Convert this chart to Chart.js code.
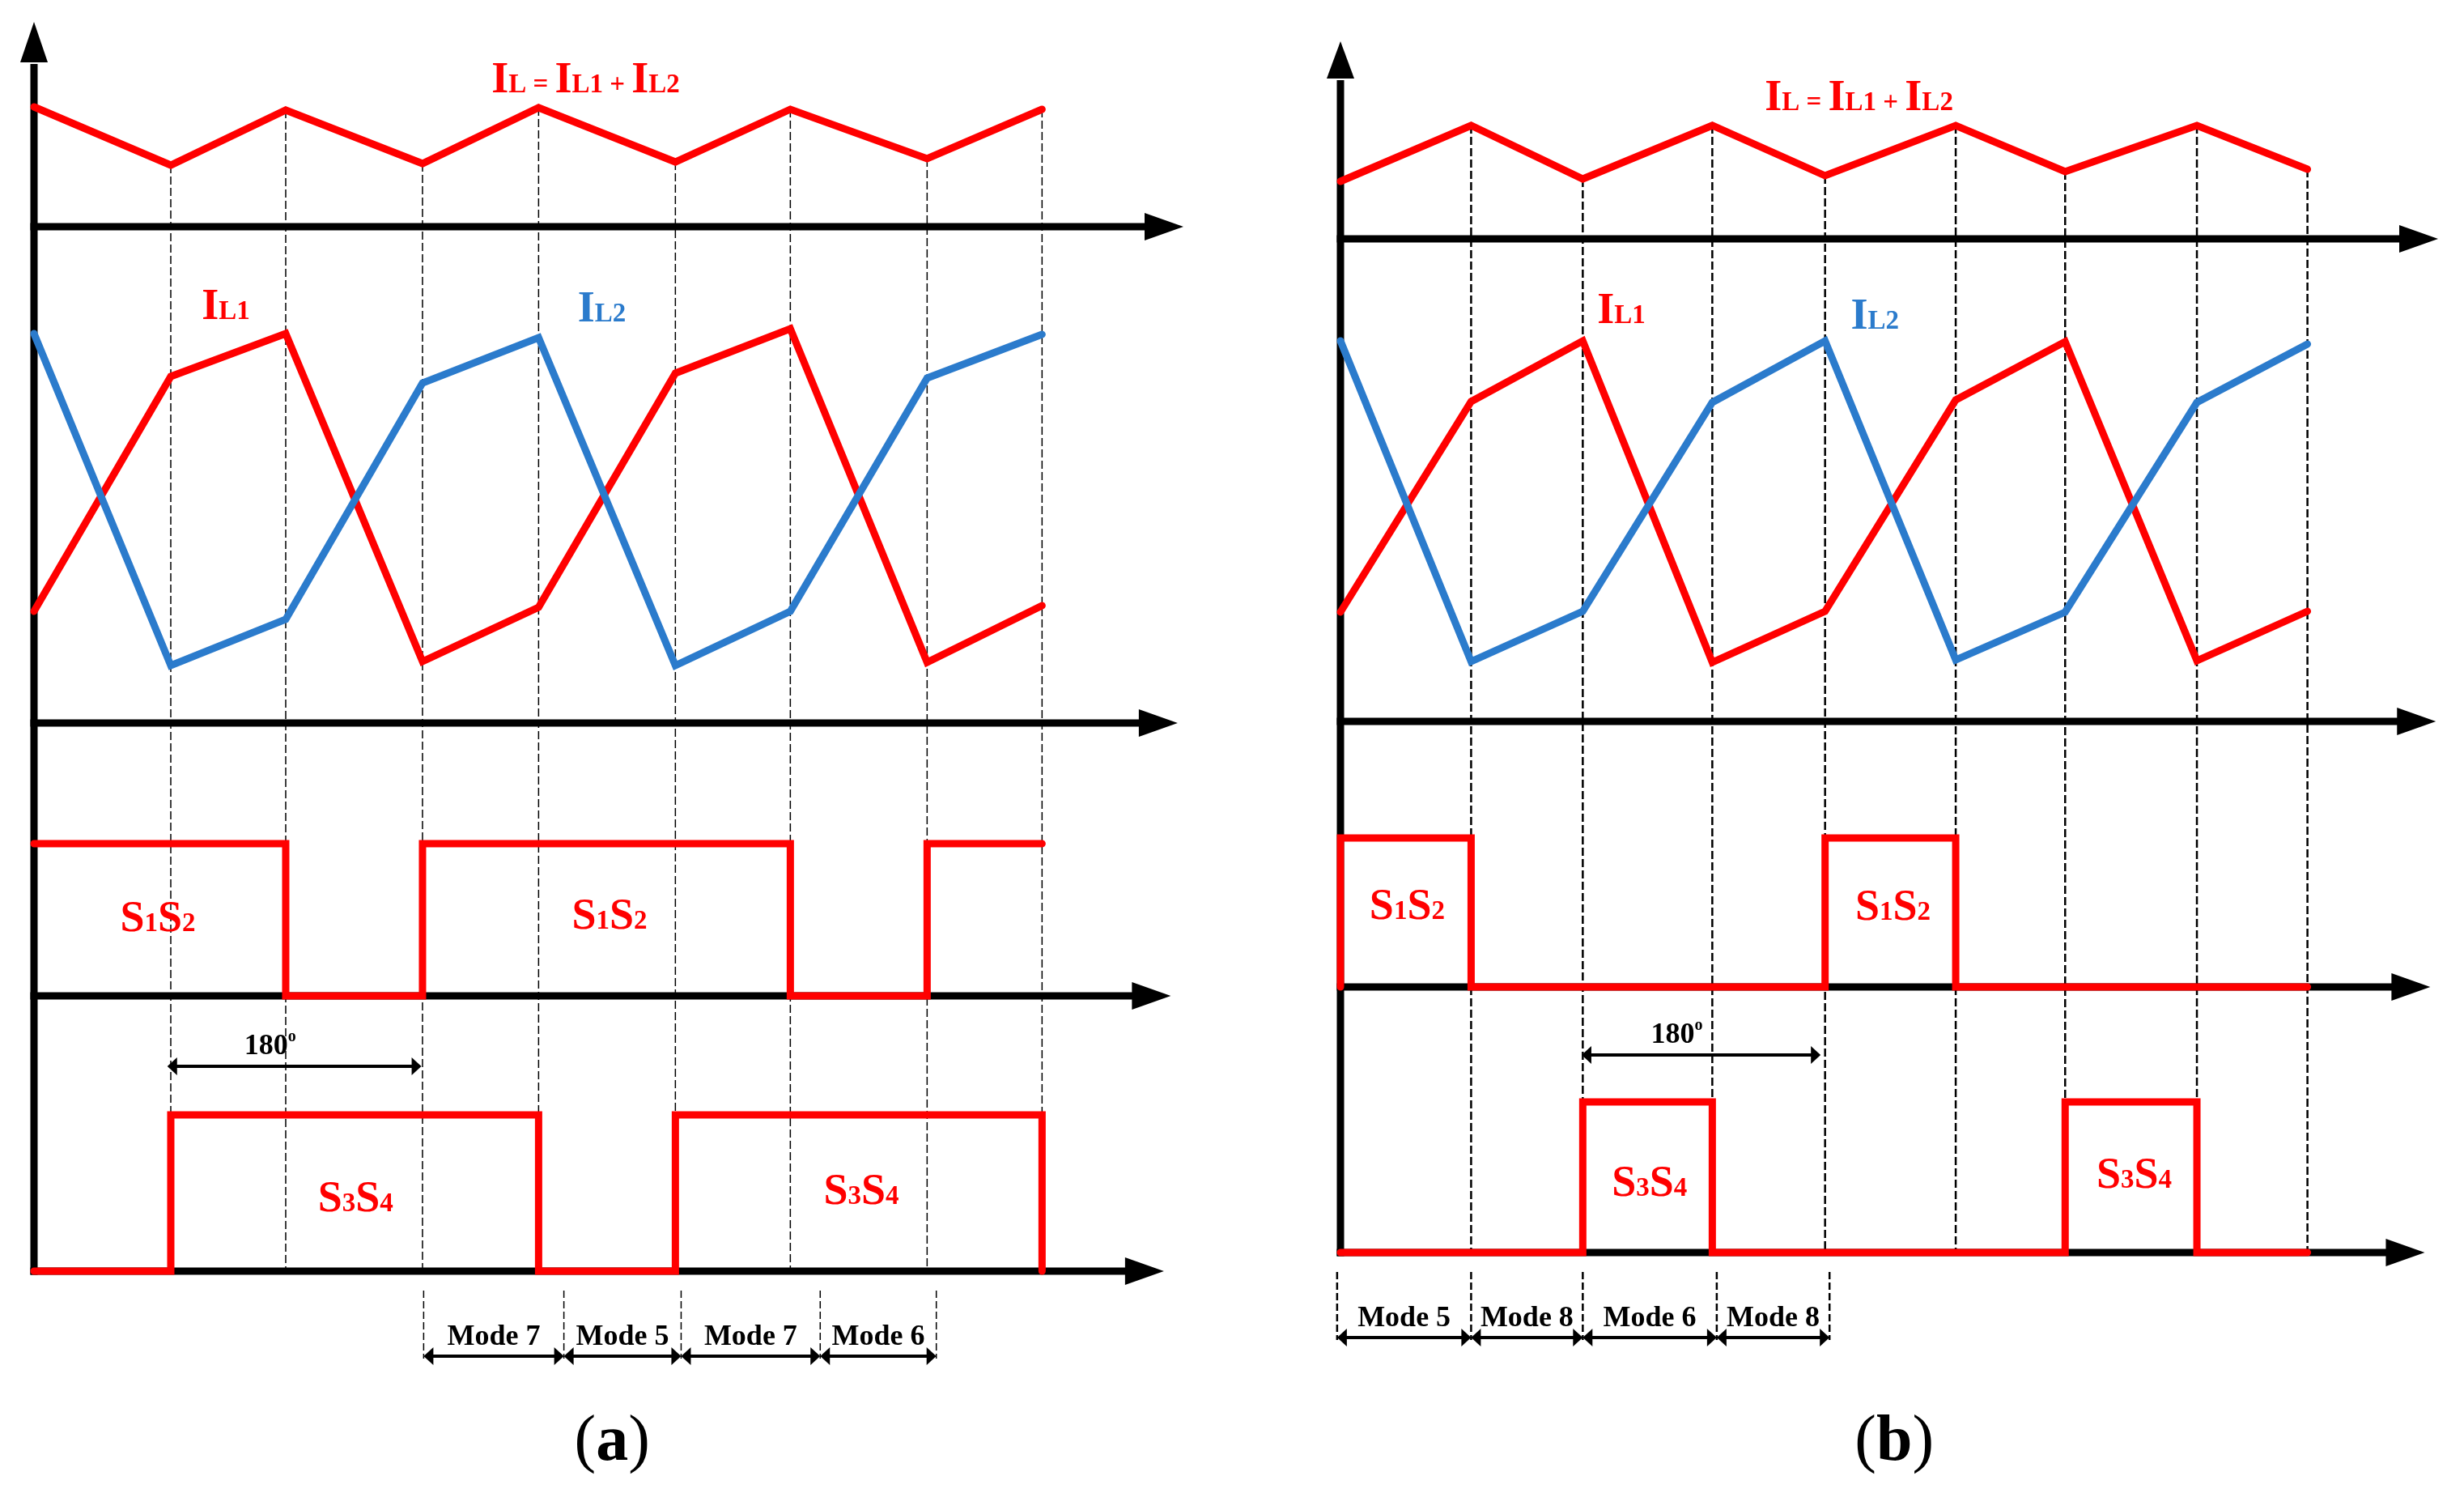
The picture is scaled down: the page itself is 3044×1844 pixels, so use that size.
<!DOCTYPE html>
<html>
<head>
<meta charset="utf-8">
<title>Interleaved converter waveforms</title>
<script src="https://cdn.jsdelivr.net/npm/chart.js@4.4.1/dist/chart.umd.min.js"></script>
<style>
  html, body { margin: 0; padding: 0; background: #fff; }
  #wrap { position: relative; width: 3044px; height: 1844px; background: #fff; }
  canvas { position: absolute; top: 0; }
  #chartA { left: 0; }
  #chartB { left: 1522px; }
</style>
</head>
<body>
<div id="wrap">
  <canvas id="chartA" width="1522" height="1844"></canvas>
  <canvas id="chartB" width="1522" height="1844"></canvas>
</div>
<script>
// ---- panel (a) data ----
const tA = [0, 1.19, 2.19, 3.38, 4.39, 5.58, 6.58, 7.77, 8.77];
const iLA = [14.8, 7.6, 14.4, 7.8, 14.7, 8.0, 14.5, 8.4, 14.5];
const iL1A = [13.8, 42.8, 48.1, 7.6, 14.3, 43.2, 48.7, 7.5, 14.5];
const iL2A = [48.1, 7.1, 12.8, 42.0, 47.6, 7.1, 13.8, 42.6, 48.0];
const s12TimesA = [0, 2.19, 3.38, 6.58, 7.77, 8.77];
const s12A = [18.8, 0, 18.8, 0, 18.8, 18.8];
const s34TimesA = [0, 1.19, 4.39, 5.58, 8.77];
const s34A = [0, 19.3, 0, 19.3, 0];
const modeNamesA = ["Mode 7", "Mode 5", "Mode 7", "Mode 6"];
const modeEdgesA = [3.39, 4.61, 5.63, 6.84, 7.85];

// ---- panel (b) data ----
const tB = [0, 1.17, 2.17, 3.33, 4.34, 5.51, 6.49, 7.67, 8.66];
const iLB = [7.1, 14.0, 7.4, 14.0, 7.8, 14.0, 8.3, 14.0, 8.6];
const iL1B = [13.5, 39.5, 47.0, 7.3, 13.6, 39.7, 46.9, 7.5, 13.6];
const iL2B = [47.0, 7.4, 13.6, 39.4, 47.0, 7.6, 13.5, 39.4, 46.6];
const s12TimesB = [0, 0, 1.17, 4.34, 5.51, 8.66];
const s12B = [0, 18.4, 0, 18.4, 0, 0];
const s34TimesB = [0, 2.17, 3.33, 6.49, 7.67, 8.66];
const s34B = [0, 18.6, 0, 18.6, 0, 0];
const modeNamesB = ["Mode 5", "Mode 8", "Mode 6", "Mode 8"];
const modeEdgesB = [-0.03, 1.17, 2.17, 3.37, 4.38];

const RED = "#ff0000";
const BLUE = "#2b7bcc";
const BIG = 'bold 54px "Liberation Serif"';
const SMALL = 'bold 33px "Liberation Serif"';
const MODE_FONT = 'bold 36px "Liberation Serif"';

const sumRuns = [["I", BIG], ["L", SMALL], [" = ", SMALL], ["I", BIG], ["L1", SMALL], [" + ", SMALL], ["I", BIG], ["L2", SMALL]];
const il1Runs = [["I", BIG], ["L1", SMALL]];
const il2Runs = [["I", BIG], ["L2", SMALL]];
const s12Runs = [["S", BIG], ["1", SMALL], ["S", BIG], ["2", SMALL]];
const s34Runs = [["S", BIG], ["3", SMALL], ["S", BIG], ["4", SMALL]];
const degRuns = [["180", 'bold 36px "Liberation Serif"'], ["o", 'bold 20px "Liberation Serif"', -16]];

function pts(xs, ys) {
  return xs.map((x, i) => ({ x: x, y: ys[i] }));
}

function wave(data, axis, color, stepped) {
  return {
    data: data, yAxisID: axis, borderColor: color, borderWidth: 9,
    pointRadius: 0, borderCapStyle: "round", borderJoinStyle: "miter",
    stepped: stepped || false, tension: 0, fill: false, clip: false
  };
}

function drawRuns(ctx, x, y, runs, color, align) {
  let w = 0;
  for (const r of runs) { ctx.font = r[1]; w += ctx.measureText(r[0]).width; }
  let cx = align === "center" ? x - w / 2 : x;
  ctx.fillStyle = color;
  ctx.textAlign = "left";
  ctx.textBaseline = "alphabetic";
  for (const r of runs) {
    ctx.font = r[1];
    ctx.fillText(r[0], cx, y + (r[2] || 0));
    cx += ctx.measureText(r[0]).width;
  }
}

// filled triangle, tip at (x,y)
function head(ctx, x, y, dir, len, half) {
  ctx.beginPath();
  if (dir === "r") { ctx.moveTo(x, y); ctx.lineTo(x - len, y - half); ctx.lineTo(x - len, y + half); }
  if (dir === "l") { ctx.moveTo(x, y); ctx.lineTo(x + len, y - half); ctx.lineTo(x + len, y + half); }
  if (dir === "u") { ctx.moveTo(x, y); ctx.lineTo(x - half, y + len); ctx.lineTo(x + half, y + len); }
  ctx.closePath();
  ctx.fill();
}

function dblArrow(ctx, xa, xb, y) {
  ctx.lineWidth = 4;
  ctx.beginPath(); ctx.moveTo(xa + 8, y); ctx.lineTo(xb - 8, y); ctx.stroke();
  head(ctx, xa, y, "l", 12, 11);
  head(ctx, xb, y, "r", 12, 11);
}

function schemePlugin(p) {
  return {
    id: "scheme",
    beforeDatasetsDraw(chart) {
      const ctx = chart.ctx, sc = chart.scales, xs = sc.x;
      const x0 = xs.getPixelForValue(0);
      const yBot = sc.y4.getPixelForValue(0);
      ctx.save();
      // dashed time markers
      ctx.strokeStyle = "#000";
      ctx.lineWidth = p.dashWidth;
      ctx.setLineDash([10, 4]);
      p.t.forEach((t, i) => {
        if (i === 0) return;
        const x = xs.getPixelForValue(t);
        ctx.beginPath();
        ctx.moveTo(x, sc.y1.getPixelForValue(p.iL[i]));
        ctx.lineTo(x, yBot);
        ctx.stroke();
      });
      ctx.setLineDash([]);
      // axes
      ctx.fillStyle = "#000";
      ctx.lineWidth = 9;
      ctx.beginPath();
      ctx.moveTo(x0, yBot + 4.5);
      ctx.lineTo(x0, chart.chartArea.top + 2);
      ctx.stroke();
      head(ctx, x0, chart.chartArea.top - p.yHead, "u", p.yHead, 17);
      ["y1", "y2", "y3", "y4"].forEach((id, k) => {
        const y = sc[id].getPixelForValue(0);
        const tip = xs.getPixelForValue(p.axisEnds[k]);
        ctx.beginPath();
        ctx.moveTo(x0 - 4.5, y);
        ctx.lineTo(tip - 46, y);
        ctx.stroke();
        head(ctx, tip, y, "r", 48, 17);
      });
      ctx.restore();
    },
    afterDatasetsDraw(chart) {
      const ctx = chart.ctx, sc = chart.scales, xs = sc.x;
      const yBot = sc.y4.getPixelForValue(0);
      ctx.save();
      // waveform labels
      p.labels.forEach(l => {
        drawRuns(ctx, xs.getPixelForValue(l.t), sc[l.axis].getPixelForValue(l.v), l.runs, l.color, "left");
      });
      // 180 degree shift
      ctx.strokeStyle = "#000";
      ctx.fillStyle = "#000";
      const a = p.shift;
      dblArrow(ctx, xs.getPixelForValue(a.from), xs.getPixelForValue(a.to), sc.y4.getPixelForValue(a.v));
      drawRuns(ctx, xs.getPixelForValue(a.labelT), sc.y4.getPixelForValue(a.labelV), degRuns, "#000", "left");
      // operating modes
      ctx.lineWidth = p.dashWidth;
      ctx.setLineDash([9, 4]);
      p.modeEdges.forEach(t => {
        const x = xs.getPixelForValue(t);
        ctx.beginPath(); ctx.moveTo(x, yBot + 24); ctx.lineTo(x, yBot + 108); ctx.stroke();
      });
      ctx.setLineDash([]);
      p.modeNames.forEach((name, i) => {
        const xa = xs.getPixelForValue(p.modeEdges[i]);
        const xb = xs.getPixelForValue(p.modeEdges[i + 1]);
        dblArrow(ctx, xa, xb, yBot + 105);
        drawRuns(ctx, (xa + xb) / 2, yBot + 91, [[name, MODE_FONT]], "#000", "center");
      });
      // caption
      drawRuns(ctx, xs.getPixelForValue(p.captionT), 1803,
        [["(", '80px "Liberation Serif"'], [p.caption, 'bold 80px "Liberation Serif"'], [")", '80px "Liberation Serif"']],
        "#000", "center");
      ctx.restore();
    }
  };
}

function buildPanel(canvasId, p) {
  const yAxis = (max, w) => ({
    type: "linear", position: "left", stack: "v", stackWeight: max, weight: w,
    min: 0, max: max, display: false, afterFit: s => { s.width = 0; }
  });
  return new Chart(document.getElementById(canvasId), {
    type: "line",
    data: {
      datasets: [
        wave(pts(p.t, p.iL), "y1", RED),
        wave(pts(p.t, p.iL2), "y2", BLUE),
        wave(pts(p.t, p.iL1), "y2", RED),
        wave(pts(p.s12x, p.s12), "y3", RED, "before"),
        wave(pts(p.s34x, p.s34), "y4", RED, "before")
      ]
    },
    options: {
      responsive: false,
      animation: false,
      devicePixelRatio: 1,
      layout: { padding: p.padding },
      plugins: { legend: { display: false }, tooltip: { enabled: false } },
      scales: {
        x: { type: "linear", min: 0, max: p.xMax, display: false, afterFit: s => { s.height = 0; } },
        y1: yAxis(p.ranges[0], 4),
        y2: yAxis(p.ranges[1], 3),
        y3: yAxis(p.ranges[2], 2),
        y4: yAxis(p.ranges[3], 1)
      }
    },
    plugins: [schemePlugin(p)]
  });
}

buildPanel("chartA", {
  t: tA, iL: iLA, iL1: iL1A, iL2: iL2A,
  s12x: s12TimesA, s12: s12A, s34x: s34TimesA, s34: s34A,
  modeEdges: modeEdgesA, modeNames: modeNamesA,
  xMax: 10, ranges: [20.3, 61.3, 33.7, 34.0],
  padding: { left: 42, right: 60, top: 77, bottom: 274 },
  axisEnds: [10, 9.95, 9.89, 9.83], yHead: 50, dashWidth: 1.5,
  labels: [
    { runs: sumRuns, color: RED, t: 3.98, axis: "y1", v: 16.6 },
    { runs: il1Runs, color: RED, t: 1.46, axis: "y2", v: 49.9 },
    { runs: il2Runs, color: BLUE, t: 4.73, axis: "y2", v: 49.6 },
    { runs: s12Runs, color: RED, t: 0.75, axis: "y3", v: 8.0 },
    { runs: s12Runs, color: RED, t: 4.68, axis: "y3", v: 8.3 },
    { runs: s34Runs, color: RED, t: 2.47, axis: "y4", v: 7.4 },
    { runs: s34Runs, color: RED, t: 6.87, axis: "y4", v: 8.3 }
  ],
  shift: { from: 1.16, to: 3.37, v: 25.3, labelT: 1.83, labelV: 26.8 },
  caption: "a", captionT: 5.03
});

buildPanel("chartB", {
  t: tB, iL: iLB, iL1: iL1B, iL2: iL2B,
  s12x: s12TimesB, s12: s12B, s34x: s34TimesB, s34: s34B,
  modeEdges: modeEdgesB, modeNames: modeNamesB,
  xMax: 9.83, ranges: [19.8, 59.6, 32.8, 32.8],
  padding: { left: 134, right: 32, top: 97, bottom: 297 },
  axisEnds: [9.83, 9.81, 9.76, 9.71], yHead: 46, dashWidth: 2.5,
  labels: [
    { runs: sumRuns, color: RED, t: 3.80, axis: "y1", v: 15.9 },
    { runs: il1Runs, color: RED, t: 2.30, axis: "y2", v: 49.2 },
    { runs: il2Runs, color: BLUE, t: 4.57, axis: "y2", v: 48.5 },
    { runs: s12Runs, color: RED, t: 0.26, axis: "y3", v: 8.4 },
    { runs: s12Runs, color: RED, t: 4.61, axis: "y3", v: 8.3 },
    { runs: s34Runs, color: RED, t: 2.43, axis: "y4", v: 7.0 },
    { runs: s34Runs, color: RED, t: 6.77, axis: "y4", v: 8.0 }
  ],
  shift: { from: 2.16, to: 4.30, v: 24.4, labelT: 2.78, labelV: 25.9 },
  caption: "b", captionT: 4.96
});
</script>
</body>
</html>
